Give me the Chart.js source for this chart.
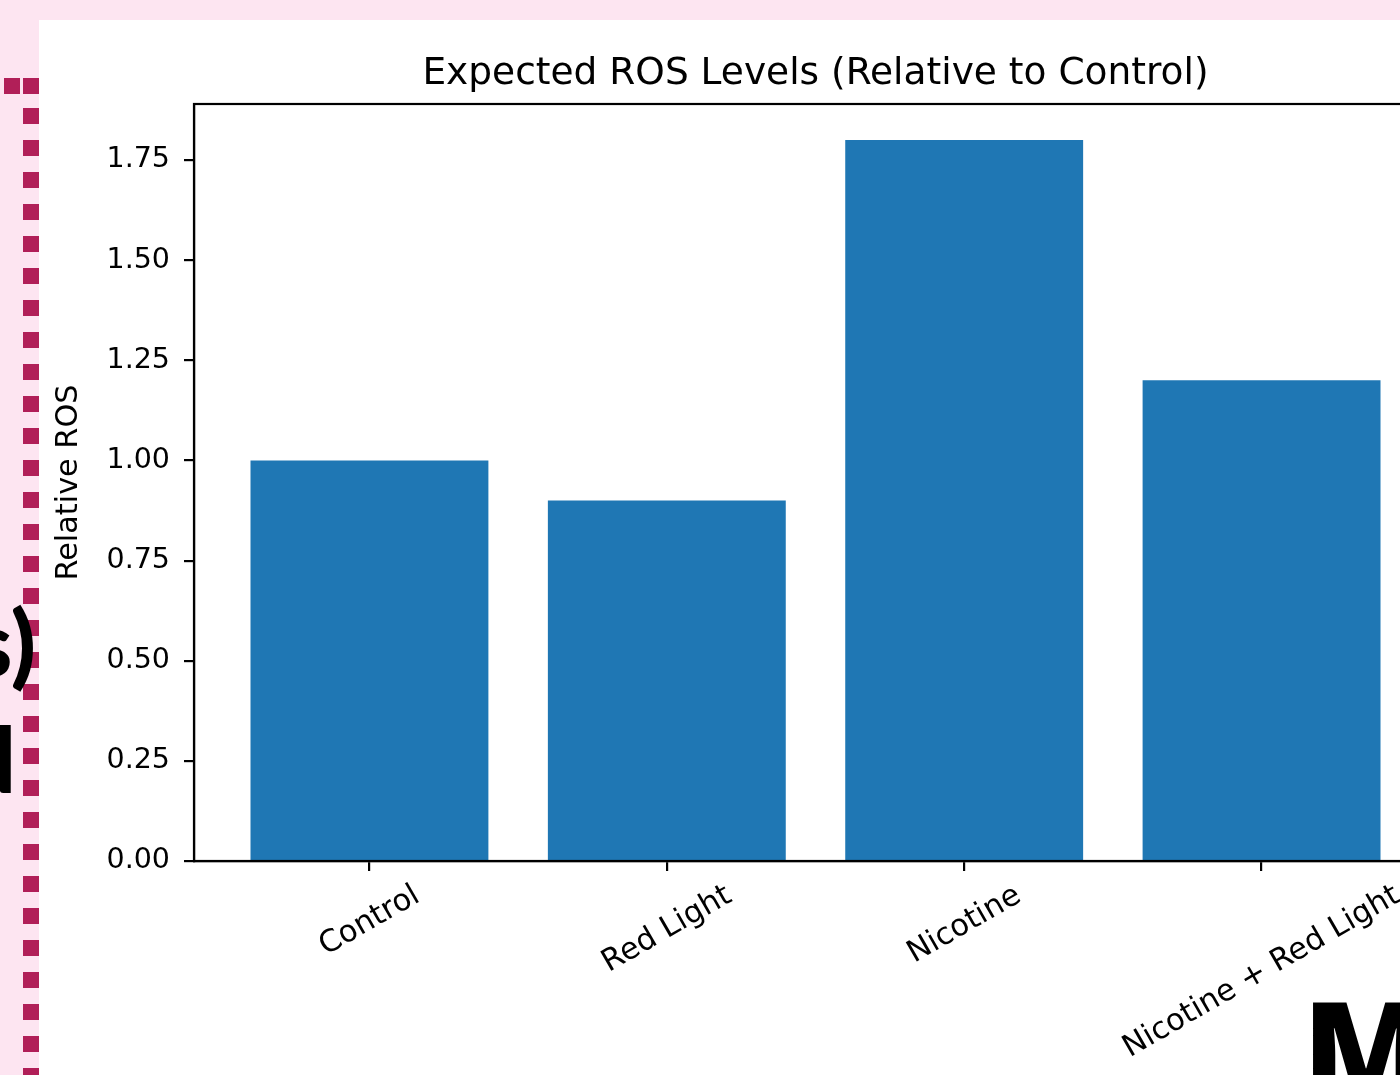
<!DOCTYPE html>
<html>
<head>
<meta charset="utf-8">
<script src="https://cdn.jsdelivr.net/npm/chart.js@4.4.1/dist/chart.umd.min.js"></script>
<style>
  html, body { margin: 0; padding: 0; width: 1400px; height: 1075px; overflow: hidden; background: #fde5f1; }
  #rail { position: absolute; left: 23px; top: 108px; width: 16px; height: 980px;
          background: repeating-linear-gradient(to bottom, #b11f58 0 16px, transparent 16px 32px); }
  .dot { position: absolute; top: 78px; width: 16px; height: 16px; background: #b11f58; }
  .big { position: absolute; font-family: Lato, "Open Sans", sans-serif; font-weight: 900; color: #000;
         line-height: 1; white-space: nowrap; }
  .heavy { font-family: "Open Sans", sans-serif; font-weight: 800; }
  #panel { position: absolute; left: 39px; top: 20px; width: 1361px; height: 1055px; background: #fff; overflow: hidden; }
  #panel canvas { position: absolute; left: 0; top: 0; }
</style>
</head>
<body>
<div class="dot" style="left:4px"></div>
<div class="dot" style="left:23px"></div>
<div id="rail"></div>
<div class="big" style="left:-200px;width:236px;text-align:right;top:596px;font-size:92px;">s)</div>
<div class="big" style="left:-200px;width:216px;text-align:right;top:712px;font-size:92px;">d</div>
<div id="panel"><canvas id="chart" width="1500" height="1055"></canvas></div>
<div class="big heavy" style="left:1303px;top:980px;font-size:130px;">M</div>

<script>
// Relative ROS per treatment group
const categories = ['Control', 'Red Light', 'Nicotine', 'Nicotine + Red Light'];
const relativeRos = [1.0, 0.9, 1.8, 1.2];
const yTickValues = [0, 0.25, 0.5, 0.75, 1.0, 1.25, 1.5, 1.75];
const yLimits = [0, 1.89];
const xLimits = [-0.59, 3.59];

const FONT = 'DejaVu Sans';
const YTICK_FS = 28.5;
const XTICK_FS = 30.5;
const LABEL_FS = 30.3;
const TITLE_FS = 37.5;
const BAR_BLUE = '#1f77b4';

Chart.defaults.font.family = FONT;

// Full box frame plus centred, rotated category labels under each tick
const frameAndLabels = {
  id: 'frameAndLabels',
  afterDraw(chart) {
    const { ctx, chartArea: a, scales: { x } } = chart;
    ctx.save();
    ctx.strokeStyle = '#000';
    ctx.lineWidth = 2.2;
    ctx.strokeRect(a.left, a.top, a.right - a.left, a.bottom - a.top);

    ctx.font = `${XTICK_FS}px "${FONT}"`;
    ctx.fillStyle = '#000';
    ctx.textAlign = 'center';
    ctx.textBaseline = 'alphabetic';
    const ang = 30 * Math.PI / 180;
    categories.forEach((label, i) => {
      const w = ctx.measureText(label).width;
      const h = 0.968 * XTICK_FS;
      const boxH = w * Math.sin(ang) + h * Math.cos(ang);
      const cx = x.getPixelForValue(i);
      const cy = a.bottom + 19.4 + boxH / 2;
      ctx.save();
      ctx.translate(cx, cy);
      ctx.rotate(-ang);
      ctx.fillText(label, 0, 0.276 * XTICK_FS);
      ctx.restore();
    });
    ctx.restore();
  }
};

new Chart(document.getElementById('chart'), {
  type: 'bar',
  data: {
    datasets: [{
      data: relativeRos.map((v, i) => ({ x: i, y: v })),
      backgroundColor: BAR_BLUE,
      borderWidth: 0,
      barPercentage: 0.8,
      categoryPercentage: 1.0
    }]
  },
  options: {
    responsive: false,
    animation: false,
    devicePixelRatio: 1,
    layout: { padding: { top: 0, left: 0, right: 102, bottom: 0 } },
    plugins: {
      legend: { display: false },
      tooltip: { enabled: false },
      title: {
        display: true,
        fullSize: false,
        text: 'Expected ROS Levels (Relative to Control)',
        color: '#000',
        font: { family: FONT, size: TITLE_FS, weight: 'normal', lineHeight: 1.2 },
        padding: { top: 31.5, bottom: 7.5 }
      }
    },
    scales: {
      x: {
        type: 'linear',
        offset: false,
        min: xLimits[0],
        max: xLimits[1],
        afterBuildTicks: s => { s.ticks = categories.map((_, i) => ({ value: i })); },
        afterFit: s => { s.height = 214; },
        ticks: { display: false },
        grid: { offset: false, drawOnChartArea: false, drawTicks: true, tickLength: 10, color: '#000', lineWidth: 2.2 },
        border: { display: true, color: '#000', width: 2.2 }
      },
      y: {
        min: yLimits[0],
        max: yLimits[1],
        afterBuildTicks: s => { s.ticks = yTickValues.map(v => ({ value: v })); },
        afterFit: s => { s.width = 155; },
        ticks: {
          color: '#000',
          padding: 14,
          font: { family: FONT, size: YTICK_FS },
          callback: v => Number(v).toFixed(2)
        },
        grid: { drawOnChartArea: false, drawTicks: true, tickLength: 10, color: '#000', lineWidth: 2.2 },
        border: { display: true, color: '#000', width: 2.2 },
        title: {
          display: true,
          text: 'Relative ROS',
          color: '#000',
          font: { family: FONT, size: LABEL_FS, lineHeight: 1.2 },
          padding: { top: 12, bottom: 0 }
        }
      }
    }
  },
  plugins: [frameAndLabels]
});
</script>
</body>
</html>
